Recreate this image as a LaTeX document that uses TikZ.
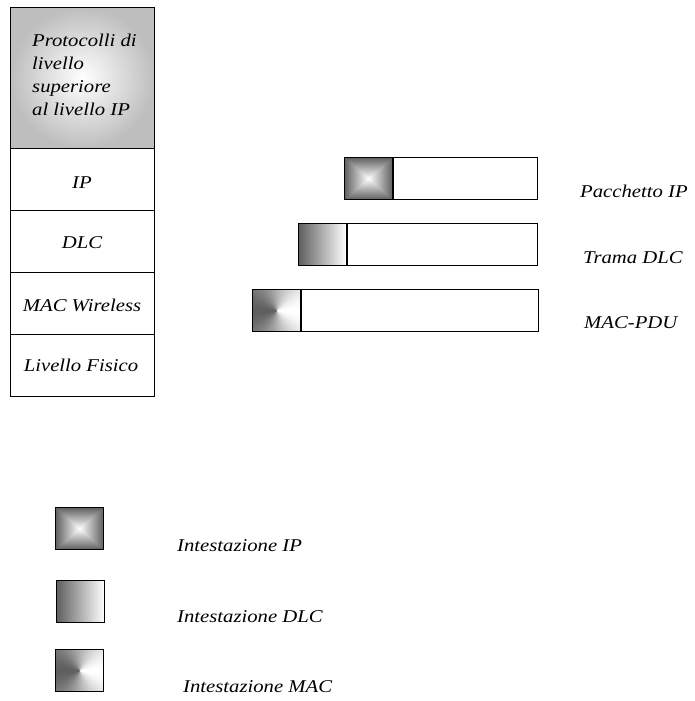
\documentclass[tikz,border=0pt]{standalone}
\usepackage{fontspec}
\setmainfont{Liberation Serif}
\newfontfamily\lblfont[FakeStretch=1.15]{Liberation Serif}
\definecolor{hdrgray}{RGB}{95,95,95}
\definecolor{topgray}{RGB}{190,190,190}
\pgfdeclarefunctionalshading{pyramid}{\pgfpoint{-50bp}{-50bp}}{\pgfpoint{50bp}{50bp}}{}{
  abs exch abs 2 copy sub abs add add 2 div
  25 div dup 1 gt {pop 1} if 0.627 mul 1 exch sub dup dup
}
\pgfdeclarefunctionalshading{angular}{\pgfpoint{-50bp}{-50bp}}{\pgfpoint{50bp}{50bp}}{}{
  exch 0.001 add atan
  cos 1 add 2 div 0.627 mul 0.373 add dup dup
}
\tikzset{
  box/.style={draw, line width=0.8pt, inner sep=0pt, anchor=north west},
  hdr/.style={box, minimum width=48pt, minimum height=42pt},
  pyr/.style={hdr, shading=pyramid},
  lin/.style={hdr, left color=hdrgray, right color=white},
  ang/.style={hdr, shading=angular},
  layer/.style={box, minimum width=144pt, minimum height=62pt},
  lbl/.style={font=\lblfont\itshape\fontsize{18}{23}\selectfont, inner sep=0pt},
}
\begin{document}
\begin{tikzpicture}[x=1pt,y=-1pt]
\useasboundingbox (0,0) rectangle (694,701);
% protocol stack
\node[box, minimum width=144pt, minimum height=141pt, inner color=white, outer color=topgray] (top) at (10,7) {};
\node[layer] (ip) at (10,148) {};
\node[layer] (dlc) at (10,210) {};
\node[layer] (mac) at (10,272) {};
\node[layer] (fis) at (10,334) {};
\node[lbl, align=left, anchor=north west] (toptxt) at (32,34) {Protocolli di\\livello\\superiore\\al livello IP};
\node[lbl, anchor=base] (iptxt) at (82,188) {IP};
\node[lbl, anchor=base] (dlctxt) at (82,248) {DLC};
\node[lbl, anchor=base] (mactxt) at (82,311) {MAC Wireless};
\node[lbl, anchor=base] (fistxt) at (81,371) {Livello Fisico};
% frames
\node[pyr] (ipH) at (344,157) {};
\node[box, minimum width=144pt, minimum height=42pt, anchor=north west] (ipB) at (ipH.north east) {};
\node[lin] (dlcH) at (298,223) {};
\node[box, minimum width=190pt, minimum height=42pt, anchor=north west] (dlcB) at (dlcH.north east) {};
\node[ang] (macH) at (252,289) {};
\node[box, minimum width=237pt, minimum height=42pt, anchor=north west] (macB) at (macH.north east) {};
\node[lbl, anchor=base west] (ipL) at (580,197) {Pacchetto IP};
\node[lbl, anchor=base west] (dlcL) at (583,263) {Trama DLC};
\node[lbl, anchor=base west] (macL) at (584,328) {MAC-PDU};
% legend
\node[pyr] (legIP) at (55,507) {};
\node[lin] (legDLC) at (56,580) {};
\node[ang] (legMAC) at (55,649) {};
\node[lbl, anchor=base west] (legIPt) at (177,551) {Intestazione IP};
\node[lbl, anchor=base west] (legDLCt) at (177,622) {Intestazione DLC};
\node[lbl, anchor=base west] (legMACt) at (183,692) {Intestazione MAC};
\end{tikzpicture}
\end{document}
